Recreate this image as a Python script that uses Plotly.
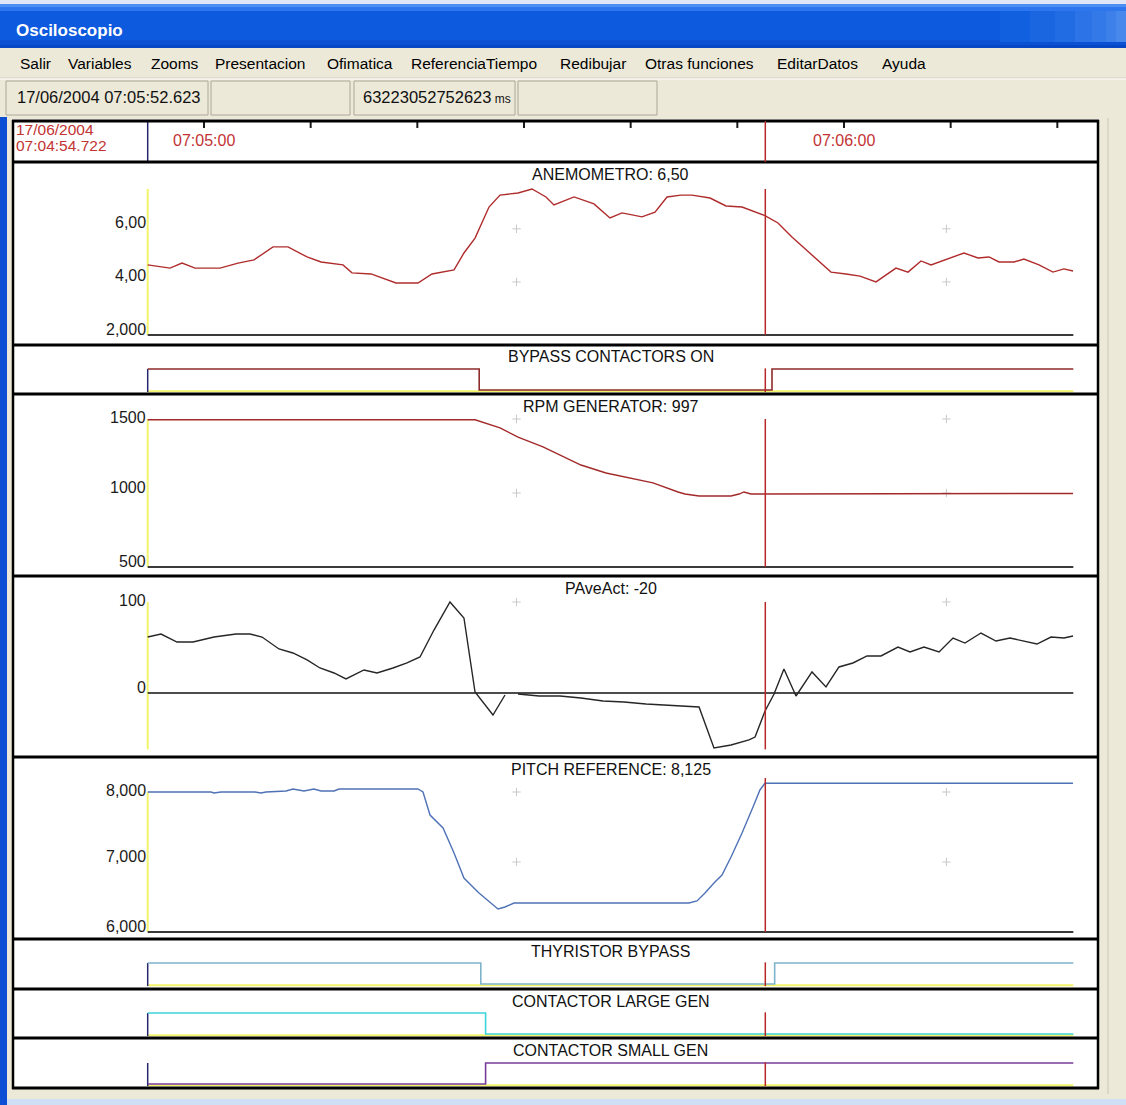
import plotly.graph_objects as go

# ======================= DATA =======================
window_title = "Osciloscopio"
menu_items = ["Salir", "Variables", "Zooms", "Presentacion", "Ofimatica",
              "ReferenciaTiempo", "Redibujar", "Otras funciones", "EditarDatos", "Ayuda"]
status_time = "17/06/2004 07:05:52.623"
status_ms = "63223052752623"
start_date = "17/06/2004"
start_clock = "07:04:54.722"

# time axis: seconds after 07:05:00
t_start = -5.278
t_end = 81.5
t_cursor = 52.623
time_tick_s = [0, 10, 20, 30, 40, 50, 60, 70, 80]
time_label_s = [0, 60]
time_label_txt = ["07:05:00", "07:06:00"]
grid_s = [29.3, 69.6]

panel_titles = ["ANEMOMETRO: 6,50", "BYPASS CONTACTORS ON", "RPM GENERATOR: 997",
                "PAveAct: -20", "PITCH REFERENCE: 8,125", "THYRISTOR BYPASS",
                "CONTACTOR LARGE GEN", "CONTACTOR SMALL GEN"]

# ANEMOMETRO
anemo_t = [-5.28, -3.19, -2.06, -0.84, 1.50, 3.19, 4.69, 6.47, 7.87, 9.66,
           10.97, 13.03, 13.87, 15.66, 18.00, 20.06, 21.37, 23.44, 24.37, 25.41,
           26.72, 27.75, 29.44, 30.75, 32.06, 32.81, 34.69, 36.56, 38.06, 39.19,
           41.06, 42.28, 43.41, 44.72, 45.75, 47.44, 48.94, 50.44, 52.59, 53.81,
           55.12, 56.81, 58.78, 60.19, 61.50, 63.00, 64.87, 66.00, 67.22, 68.16,
           69.19, 71.25, 72.56, 73.59, 74.53, 75.94, 76.87, 78.28, 79.59, 80.62, 81.47]
anemo_v = [4.64, 4.52, 4.71, 4.52, 4.52, 4.71, 4.83, 5.32, 5.32, 4.94,
           4.75, 4.64, 4.34, 4.30, 3.96, 3.96, 4.30, 4.45, 5.09, 5.65,
           6.82, 7.27, 7.35, 7.50, 7.20, 6.90, 7.20, 6.94, 6.41, 6.60,
           6.45, 6.63, 7.20, 7.27, 7.27, 7.16, 6.86, 6.82, 6.50, 6.22,
           5.69, 5.09, 4.37, 4.30, 4.22, 4.00, 4.52, 4.37, 4.79, 4.64,
           4.79, 5.09, 4.90, 4.94, 4.75, 4.75, 4.86, 4.64, 4.37, 4.49, 4.41]
anemo_ticks = [6, 4, 2]
anemo_tick_txt = ["6,00", "4,00", "2,000"]
anemo_lim = [2, 7.5]

# BYPASS CONTACTORS ON
bypass_t = [-5.278, 25.8, 53.25, 81.5]
bypass_v = [1, 0, 1, 1]

# RPM GENERATOR
rpm_t = [-5.28, 25.41, 27.75, 29.44, 31.78, 33.37, 35.34, 37.69, 40.03, 42.09,
         44.44, 45.09, 46.41, 49.41, 50.16, 50.62, 51.28, 51.94, 52.59, 81.47]
rpm_v = [1495, 1495, 1440, 1378, 1311, 1257, 1189, 1135, 1101, 1068,
         1007, 993, 980, 980, 993, 1007, 993, 993, 997, 997]
rpm_ticks = [1500, 1000, 500]
rpm_tick_txt = ["1500", "1000", "500"]
rpm_lim = [500, 1500]

# PAveAct
pave_t = [-5.28, -4.03, -2.53, -1.03, 0.94, 3.00, 4.31, 5.44, 7.03, 8.34,
          9.66, 10.87, 12.19, 13.31, 15.00, 16.22, 17.72, 19.03, 20.25, 21.56,
          23.06, 24.37, 25.41, 27.09, 28.22, 28.80, 29.44, 31.41, 33.37, 35.34,
          37.41, 39.37, 41.44, 43.41, 46.41, 47.81, 49.41, 51.09, 51.66, 52.59,
          53.44, 54.37, 55.50, 57.00, 58.31, 59.53, 60.84, 62.16, 63.47, 65.06,
          66.19, 67.50, 68.91, 70.22, 71.34, 72.84, 74.25, 75.56, 76.87, 78.09,
          79.41, 80.62, 81.47]
pave_v = [61.5, 64.8, 56.0, 56.0, 61.5, 64.8, 64.8, 61.5, 48.4, 44.0,
          36.3, 27.5, 22.0, 15.4, 25.3, 22.0, 27.5, 33.0, 39.6, 69.2,
          100, 82.4, 1.1, -24.2, -2.2, None, -1.1, -3.3, -3.3, -5.5,
          -8.8, -9.9, -12.1, -13.2, -15.4, -60.4, -57.1, -51.6, -48.4, -20,
          -1.1, 26.4, -3.3, 23.1, 6.6, 28.6, 33.0, 40.7, 40.7, 50.5,
          45.1, 50.5, 45.1, 60.4, 54.9, 65.9, 57.1, 60.4, 57.1, 53.8,
          61.5, 60.4, 62.6]
pave_ticks = [100, 0]
pave_tick_txt = ["100", "0"]
pave_lim = [-62, 100]

# PITCH REFERENCE
pitch_t = [-5.28, 0.66, 0.94, 1.59, 4.78, 5.34, 5.81, 7.69, 8.34, 9.37,
           10.31, 10.97, 12.19, 12.66, 20.06, 20.53, 21.19, 22.41, 23.44, 24.37,
           25.78, 27.56, 28.22, 29.06, 33.37, 45.47, 46.22, 46.97, 47.81, 48.56,
           49.41, 50.44, 51.47, 52.12, 52.59, 81.47]
pitch_v = [8000, 8000, 7986, 8000, 8000, 7986, 8000, 8014, 8043, 8014,
           8043, 8014, 8014, 8043, 8043, 8000, 7671, 7486, 7129, 6771,
           6557, 6329, 6357, 6414, 6414, 6414, 6443, 6557, 6700, 6814,
           7071, 7414, 7786, 8029, 8125, 8125]
pitch_ticks = [8000, 7000, 6000]
pitch_tick_txt = ["8,000", "7,000", "6,000"]
pitch_lim = [6000, 8000]

# digital signals
thyr_t = [-5.278, 25.95, 53.5, 81.5]
thyr_v = [1, 0, 1, 1]
large_t = [-5.278, 26.4, 81.5]
large_v = [1, 0, 0]
small_t = [-5.278, 26.4, 81.5]
small_v = [0, 1, 1]

# ======================= STYLE / GEOMETRY =======================
W, H = 1126, 1105
X0_PX = 204.0
PX_PER_S = 640.0 / 60.0
FONT = "Liberation Sans, Arial, Helvetica, sans-serif"
BEIGE = "#ECE9D8"
RED_TXT = "#c23333"
YELLOW = "#f4f46a"
NAVY = "#26266e"
CURSOR = "#b82626"


def px(xp):
    return xp / W


def py(yp):
    return 1 - yp / H


# panel: (top_px, bottom_px, value_a, px_a, value_b, px_b)
GEOM = {
    "time": (121, 162, 0, 162, 1, 121),
    "anemo": (162, 345, 2, 335, 7.5, 189),
    "bypass": (345, 394, 0, 390, 1, 369),
    "rpm": (394, 576, 500, 567, 1500, 419),
    "pave": (576, 757, 0, 693, 100, 602),
    "pitch": (757, 939, 6000, 932, 8000, 792),
    "thyr": (939, 989, 0, 984, 1, 963),
    "large": (989, 1038, 0, 1034, 1, 1013),
    "small": (1038, 1088, 0, 1084, 1, 1063),
}
order = ["time", "anemo", "bypass", "rpm", "pave", "pitch", "thyr", "large", "small"]

fig = go.Figure()
layout_axes = {}
yref = {}
for i, name in enumerate(order, start=1):
    top, bot, va, ya, vb, yb = GEOM[name]
    slope = (vb - va) / (ya - yb)
    rng = [va + (ya - bot) * slope, va + (ya - top) * slope]
    key = "yaxis" if i == 1 else f"yaxis{i}"
    yref[name] = "y" if i == 1 else f"y{i}"
    layout_axes[key] = dict(domain=[py(bot), py(top)], range=rng, anchor="x",
                            visible=False, fixedrange=True)

layout_axes["xaxis"] = dict(domain=[0, 1], range=[-X0_PX / PX_PER_S, (W - X0_PX) / PX_PER_S],
                            anchor="y", showgrid=False, zeroline=False, showline=False,
                            ticks="", showticklabels=False, fixedrange=True)


def add_line(name, t, v, color, width=1.4, shape="linear"):
    fig.add_trace(go.Scatter(x=t, y=v, mode="lines", xaxis="x", yaxis=yref[name],
                             line=dict(color=color, width=width, shape=shape),
                             connectgaps=False, hoverinfo="skip", showlegend=False))


shapes = []


def rect(x0, y0, x1, y1, fill, line=None, lw=0, layer="below"):
    shapes.append(dict(type="rect", xref="paper", yref="paper", x0=px(x0), x1=px(x1),
                       y0=py(y1), y1=py(y0), fillcolor=fill,
                       line=dict(color=line or fill, width=lw), layer=layer))


def pline(x0, y0, x1, y1, color, width, layer="above"):
    shapes.append(dict(type="line", xref="paper", yref="paper", x0=px(x0), x1=px(x1),
                       y0=py(y0), y1=py(y1), line=dict(color=color, width=width), layer=layer))


def dline(name, x0, y0, x1, y1, color, width, layer="below"):
    shapes.append(dict(type="line", xref="x", yref=yref[name], x0=x0, x1=x1, y0=y0, y1=y1,
                       line=dict(color=color, width=width), layer=layer))


# ---- window chrome ----
rect(0, 0, W, 4, "#dfe7f6")
bands = [(4, 7, "#4b8ff5"), (7, 11, "#2d76ee"), (11, 40, "#0d5ade"),
         (40, 45, "#0a51d3"), (45, 48, "#0847c4")]
for y0, y1, c in bands:
    rect(0, y0, W, y1, c)
right_grad = [(1000, "#1160df"), (1030, "#1a66e1"), (1055, "#226ce3"), (1075, "#2b73e6"),
              (1092, "#3479e8"), (1106, "#3d80ea"), (1116, "#4688ec")]
for gx, c in right_grad:
    rect(gx, 11, W, 42, c)
rect(0, 48, W, 117, BEIGE)
pline(0, 78, W, 78, "#d2cebf", 1, layer="below")
pline(0, 79, W, 79, "#ffffff", 1, layer="below")
for x0, x1 in [(6, 208), (211, 350), (354, 515), (518, 657)]:
    rect(x0, 81, x1, 115, BEIGE, line="#aca899", lw=1)
rect(0, 117, 7, H, "#0c4fd5")
rect(7, 1099, W, H, "#cfdff5")
pline(1108, 118, 1108, 1094, "#cbc7b6", 1, layer="below")
rect(12, 119, 1099, 1089, "#ffffff")

# panel frames
for yb in [121, 162, 345, 394, 576, 757, 939, 989, 1038, 1088]:
    pline(12, yb, 1099, yb, "#000000", 3)
pline(13, 120, 13, 1089, "#000000", 2.5)
pline(1098, 120, 1098, 1089, "#000000", 2.5)

# ---- time panel (y range 0..1 covers the panel) ----
tick_x, tick_y = [], []
for s in time_tick_s:
    tick_x += [s, s, None]
    tick_y += [1.0, 0.83, None]
fig.add_trace(go.Scatter(x=tick_x, y=tick_y, mode="lines", xaxis="x", yaxis="y",
                         line=dict(color="#1a1a1a", width=2), hoverinfo="skip",
                         showlegend=False))
dline("time", t_start, 0, t_start, 1, NAVY, 1.5)
dline("time", t_cursor, 0, t_cursor, 1, CURSOR, 1.5, layer="above")

# ---- analog panels ----
analog = [("anemo", anemo_lim, True), ("rpm", rpm_lim, True),
          ("pave", pave_lim, False), ("pitch", pitch_lim, True)]
for name, lim, baseline in analog:
    dline(name, t_start, lim[0], t_start, lim[1], YELLOW, 2)
    if baseline:
        dline(name, t_start, lim[0], t_end, lim[0], "#3a3a3a", 2)
dline("pave", t_start, 0, t_end, 0, "#111111", 1.5)

cursor_lims = {"anemo": anemo_lim, "rpm": rpm_lim, "pave": pave_lim, "pitch": [6000, 8200]}
for name, lim in cursor_lims.items():
    dline(name, t_cursor, lim[0], t_cursor, lim[1], CURSOR, 1.5, layer="above")

# ---- digital panels ----
for name in ["bypass", "thyr", "large", "small"]:
    dline(name, t_start, -0.06, t_end, -0.06, YELLOW, 2)
    dline(name, t_start, -0.1, t_start, 1.0, NAVY, 1.5)
    dline(name, t_cursor, -0.1, t_cursor, 1.03, CURSOR, 1.5, layer="above")

# grid crosses
for name, ticks in [("anemo", anemo_ticks[:2]), ("rpm", rpm_ticks[:2]),
                    ("pave", pave_ticks[:1]), ("pitch", pitch_ticks[:2])]:
    gx = [g for g in grid_s for _ in ticks]
    gy = [v for _ in grid_s for v in ticks]
    fig.add_trace(go.Scatter(x=gx, y=gy, mode="markers", xaxis="x", yaxis=yref[name],
                             marker=dict(symbol="cross-thin", size=6,
                                         line=dict(width=1, color="#c9c9c9")),
                             hoverinfo="skip", showlegend=False))

# ---- traces ----
add_line("anemo", anemo_t, anemo_v, "#b02c2c")
add_line("rpm", rpm_t, rpm_v, "#a32a2a")
add_line("pave", pave_t, pave_v, "#262626")
add_line("pitch", pitch_t, pitch_v, "#4f72b6")
add_line("bypass", bypass_t, bypass_v, "#8f2b2b", 1.6, "hv")
add_line("thyr", thyr_t, thyr_v, "#7fb2cb", 1.6, "hv")
add_line("large", large_t, large_v, "#3cd4dc", 1.6, "hv")
add_line("small", small_t, small_v, "#7a3c9c", 1.6, "hv")

# ======================= TEXT =======================
ann = []


def text(x, y, s, size, color="#111111", xanchor="left", bold=False, family=FONT):
    ann.append(dict(xref="paper", yref="paper", x=px(x), y=py(y), text=s, showarrow=False,
                    xanchor=xanchor, yanchor="middle",
                    font=dict(family=family, size=size, color=color,
                              weight="bold" if bold else "normal")))


text(14, 30, window_title, 17, "#ffffff", bold=True)
menu_x = [18, 66, 149, 213, 325, 409, 558, 643, 775, 880]
for mx, item in zip(menu_x, menu_items):
    text(mx, 63, item, 15.5, "#000000")
text(15, 97, status_time, 16.5, "#111111")
text(361, 97, status_ms + "<span style='font-size:12px'> ms</span>", 16.5, "#111111")
text(14, 129, start_date, 15.5, RED_TXT)
text(14, 146, start_clock, 15.5, RED_TXT)

for s, lab in zip(time_label_s, time_label_txt):
    ann.append(dict(xref="x", yref="paper", x=s, y=py(140), text=lab, showarrow=False,
                    xanchor="center", yanchor="middle",
                    font=dict(family=FONT, size=16, color=RED_TXT)))

title_panels = ["anemo", "bypass", "rpm", "pave", "pitch", "thyr", "large", "small"]
for name, ttl in zip(title_panels, panel_titles):
    top = GEOM[name][0]
    ann.append(dict(xref="x", yref="paper", x=(t_start + t_end) / 2, y=py(top + 12), text=ttl,
                    showarrow=False, xanchor="center", yanchor="middle",
                    font=dict(family=FONT, size=16, color="#111111")))

for name, vals, txts, lim in [("anemo", anemo_ticks, anemo_tick_txt, anemo_lim),
                              ("rpm", rpm_ticks, rpm_tick_txt, rpm_lim),
                              ("pave", pave_ticks, pave_tick_txt, pave_lim),
                              ("pitch", pitch_ticks, pitch_tick_txt, pitch_lim)]:
    for v, s in zip(vals, txts):
        ann.append(dict(xref="paper", yref=yref[name], x=px(148), y=v, text=s,
                        showarrow=False, xanchor="right", yanchor="middle",
                        yshift=2 if v >= lim[1] else 6,
                        font=dict(family=FONT, size=16, color="#1a1a1a")))

fig.update_layout(width=W, height=H, margin=dict(l=0, r=0, t=0, b=0),
                  paper_bgcolor=BEIGE, plot_bgcolor="rgba(0,0,0,0)",
                  shapes=shapes, annotations=ann, showlegend=False, **layout_axes)

fig.write_html("out.html", config={"displayModeBar": False},
               post_script="document.body.style.margin='0px';document.body.style.overflow='hidden';")
